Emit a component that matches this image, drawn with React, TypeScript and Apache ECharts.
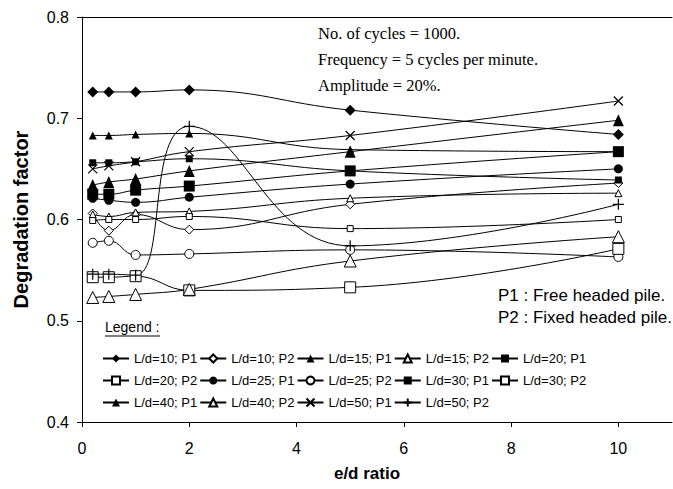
import React, { useEffect, useRef } from "react";
import * as echarts from "echarts";

// e/d ratio values (x)
const xValues = [0.2, 0.5, 1, 2, 5, 10];

// Degradation factor values per series
const ld10P1 = [0.726, 0.726, 0.726, 0.728, 0.708, 0.684];
const ld10P2 = [0.606, 0.589, 0.605, 0.590, 0.615, 0.636];
const ld15P1 = [0.683, 0.683, 0.684, 0.685, 0.669, 0.667];
const ld15P2 = [0.605, 0.603, 0.607, 0.608, 0.621, 0.626];
const ld20P1 = [0.656, 0.656, 0.657, 0.660, 0.648, 0.639];
const ld20P2 = [0.599, 0.600, 0.600, 0.603, 0.591, 0.600];
const ld25P1 = [0.621, 0.619, 0.617, 0.622, 0.635, 0.650];
const ld25P2 = [0.577, 0.579, 0.565, 0.566, 0.570, 0.563];
const ld30P1 = [0.625, 0.625, 0.629, 0.633, 0.648, 0.667];
const ld30P2 = [0.543, 0.543, 0.544, 0.530, 0.533, 0.571];
const ld40P1 = [0.634, 0.637, 0.640, 0.648, 0.667, 0.698];
const ld40P2 = [0.523, 0.524, 0.526, 0.531, 0.559, 0.583];
const ld50P1 = [0.650, 0.653, 0.657, 0.667, 0.683, 0.717];
const ld50P2 = [0.546, 0.546, 0.545, 0.692, 0.574, 0.615];

const seriesNames = [
  "L/d=10; P1", "L/d=10; P2", "L/d=15; P1", "L/d=15; P2", "L/d=20; P1",
  "L/d=20; P2", "L/d=25; P1", "L/d=25; P2", "L/d=30; P1", "L/d=30; P2",
  "L/d=40; P1", "L/d=40; P2", "L/d=50; P1", "L/d=50; P2",
];
const seriesValues = [
  ld10P1, ld10P2, ld15P1, ld15P2, ld20P1,
  ld20P2, ld25P1, ld25P2, ld30P1, ld30P2,
  ld40P1, ld40P2, ld50P1, ld50P2,
];

const xTickValues = [0, 2, 4, 6, 8, 10];
const yTickLabels = ["0.4", "0.5", "0.6", "0.7", "0.8"];

const notesTop = [
  "No. of cycles = 1000.",
  "Frequency = 5 cycles per minute.",
  "Amplitude = 20%.",
];
const notesPile = ["P1 : Free headed pile.", "P2 : Fixed headed pile."];

const SANS = "'Liberation Sans', Arial, sans-serif";
const SERIF = "'Liberation Serif', 'Times New Roman', serif";

const CROSS = "path://M0,0L10,10M10,0L0,10";
const PLUS = "path://M5,0L5,10M0,5L10,5";

// marker styles: [symbol, size, filled]
const markerStyles: [string, number | number[], boolean][] = [
  ["diamond", 11, true],
  ["diamond", 9, false],
  ["triangle", 8, true],
  ["triangle", 7, false],
  ["rect", 7, true],
  ["rect", 6, false],
  ["circle", 9, true],
  ["circle", 9, false],
  ["rect", 11, true],
  ["rect", 11, false],
  ["triangle", [11, 12], true],
  ["triangle", 12, false],
  [CROSS, 9, true],
  [PLUS, 11, true],
];

export default function App() {
  const ref = useRef<HTMLDivElement>(null);
  useEffect(() => {
    document.body.style.margin = "0";
    const chart = echarts.init(ref.current!, null, { renderer: "svg" });

    const series = seriesNames.map((name, i) => {
      const [symbol, size, filled] = markerStyles[i];
      const isPath = symbol.startsWith("path://");
      return {
        name,
        type: "line",
        xAxisIndex: 0,
        yAxisIndex: 0,
        data: xValues.map((x, k) => [x, seriesValues[i][k]]),
        smooth: 0.45,
        symbol,
        symbolSize: size,
        showAllSymbol: true,
        lineStyle: { color: "#000", width: 1 },
        itemStyle: {
          color: filled ? "#000" : "#fff",
          borderColor: "#000",
          borderWidth: isPath ? 1.2 : filled ? 0 : 1,
        },
        emphasis: { disabled: true },
      };
    });

    const legendRow = (names: string[], top: number) => ({
      data: names,
      left: 97,
      top,
      itemWidth: 26,
      itemHeight: 10,
      itemGap: 2,
      selectedMode: false,
      textStyle: { fontFamily: SANS, fontSize: 13, color: "#000" },
    });

    const textStyleBase = { fontFamily: SANS, fontSize: 16, color: "#000" };

    const option = {
      animation: false,
      grid: { left: 82, top: 17, right: 1, bottom: 67, containLabel: false },
      xAxis: [
        {
          type: "value",
          min: 0,
          max: 11,
          name: "e/d ratio",
          nameLocation: "middle",
          nameGap: 43,
          nameTextStyle: { fontFamily: SANS, fontSize: 17, fontWeight: "bold", color: "#000", padding: [0, 20, 0, 0] },
          axisLine: { show: true, lineStyle: { color: "#000", width: 1 } },
          axisTick: { show: true, length: 5, inside: false, customValues: xTickValues, lineStyle: { color: "#000" } },
          axisLabel: { ...textStyleBase, margin: 18, customValues: xTickValues },
          splitLine: { show: false },
        },
        {
          type: "value",
          position: "top",
          min: 0,
          max: 11,
          axisLine: { show: true, onZero: false, lineStyle: { color: "#000", width: 1 } },
          axisTick: { show: false },
          axisLabel: { show: false },
          splitLine: { show: false },
        },
      ],
      yAxis: {
        type: "value",
        min: 0.4,
        max: 0.8,
        interval: 0.1,
        name: "Degradation factor",
        nameLocation: "middle",
        nameGap: 51,
        nameTextStyle: { fontFamily: SANS, fontSize: 20, fontWeight: "bold", color: "#000" },
        axisLine: { show: true, lineStyle: { color: "#000", width: 1 } },
        axisTick: { show: true, length: 5, lineStyle: { color: "#000" } },
        axisLabel: {
          ...textStyleBase,
          margin: 13,
          formatter: (v: number) => yTickLabels[Math.round((v - 0.4) * 10)] ?? "",
        },
        splitLine: { show: false },
      },
      legend: [
        legendRow(seriesNames.slice(0, 5), 347),
        legendRow(seriesNames.slice(5, 10), 369),
        legendRow(seriesNames.slice(10), 391),
      ],
      graphic: [
        ...notesTop.map((t, i) => ({
          type: "text",
          left: 318,
          top: 25 + i * 26,
          style: { text: t, fontFamily: SERIF, fontSize: 16.5, fill: "#000" },
        })),
        ...notesPile.map((t, i) => ({
          type: "text",
          left: 498,
          top: 287 + i * 22,
          style: { text: t, fontFamily: SANS, fontSize: 17, fill: "#000" },
        })),
        {
          type: "text",
          left: 105,
          top: 320,
          style: { text: "Legend :", fontFamily: SANS, fontSize: 14, fill: "#000" },
        },
        {
          type: "line",
          shape: { x1: 105, y1: 336, x2: 160, y2: 336 },
          style: { stroke: "#000", lineWidth: 1 },
        },
      ],
      series,
    };

    chart.setOption(option as any);
    return () => chart.dispose();
  }, []);
  return <div ref={ref} style={{ width: 673, height: 489 }} />;
}
